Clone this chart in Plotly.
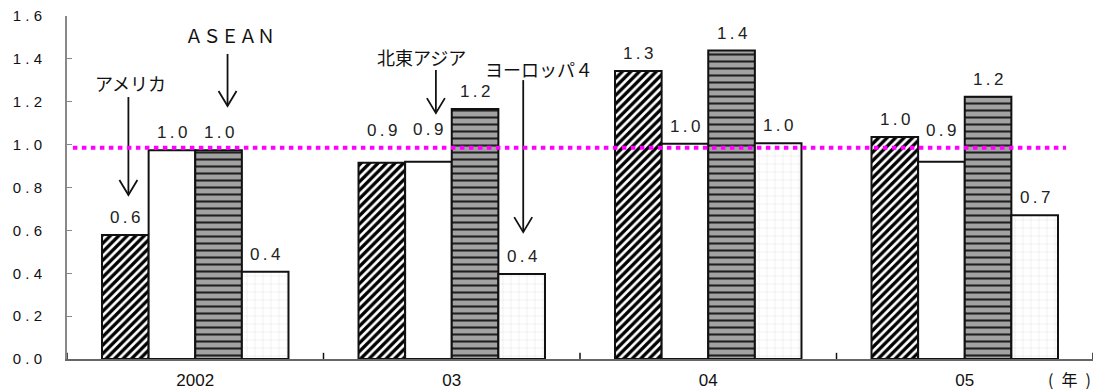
import plotly.graph_objects as go

# ---- data ----
years = ["2002", "03", "04", "05"]
series_names = ["アメリカ", "北東アジア", "ＡＳＥＡＮ", "ヨーロッパ４"]
america = [0.578, 0.915, 1.343, 1.036]
ne_asia = [0.974, 0.920, 1.004, 0.920]
asean = [0.974, 1.166, 1.439, 1.223]
europe4 = [0.407, 0.396, 1.006, 0.671]
reference_level = 0.985
y_ticks = [0.0, 0.2, 0.4, 0.6, 0.8, 1.0, 1.2, 1.4, 1.6]

values = [america, ne_asia, asean, europe4]

FONT = "Liberation Sans, Arial, sans-serif"
JFONT = "Noto Sans CJK JP, sans-serif"

patterns = [
    dict(shape="/", fgcolor="#000000", bgcolor="white", size=6, solidity=0.55, fgopacity=1),
    dict(shape="", fgcolor="white", bgcolor="white"),
    dict(shape="-", fgcolor="#202020", bgcolor="#a2a2a2", size=7, solidity=0.3, fgopacity=1),
    dict(shape="+", fgcolor="#a8a8a8", bgcolor="white", size=8, solidity=0.08),
]

BARGAP = 0.273
bar_w = (1 - BARGAP) / len(values)


def bar_x(cat, s):
    return cat + (s - (len(values) - 1) / 2) * bar_w


def spaced(v, sep):
    return sep.join(f"{v:.1f}")


fig = go.Figure()
for s, (name, vals) in enumerate(zip(series_names, values)):
    fig.add_trace(go.Bar(
        x=list(range(len(years))), y=vals, name=name,
        marker=dict(color="white", pattern=patterns[s],
                    line=dict(color="#111111", width=2)),
        showlegend=False,
    ))

annotations = []
shapes = []

# value labels above each bar (a few lifted to clear the arrows)
lift = {(1, 0): 15, (1, 1): 15, (3, 1): 14}
for s, vals in enumerate(values):
    for c, v in enumerate(vals):
        annotations.append(dict(
            x=bar_x(c, s), y=v, xref="x", yref="y",
            text=spaced(v, "\u2009"), showarrow=False,
            yanchor="bottom", yshift=6 + lift.get((c, s), 0),
            font=dict(family=FONT, size=17, color="#222222"),
        ))

# callout arrows naming each series: (series, year, dx, head, tail, text_dx, text_y)
callouts = [
    (0, 0, 0.012, 0.765, 1.222, 0.020, 1.287),
    (2, 0, 0.035, 1.180, 1.423, 0.043, 1.511),
    (1, 1, 0.029, 1.147, 1.348, -0.029, 1.408),
    (3, 1, 0.006, 0.592, 1.301, 0.068, 1.352),
]
for s, c, dx, head, tail, tdx, ty in callouts:
    xh = bar_x(c, s) + dx
    # shaft
    shapes.append(dict(
        type="line", xref="x", yref="y", x0=xh, x1=xh, y0=head, y1=tail,
        line=dict(color="#111111", width=1.8),
    ))
    # open V head, sized in pixels around the tip
    shapes.append(dict(
        type="path", xref="x", yref="y",
        xsizemode="pixel", ysizemode="pixel", xanchor=xh, yanchor=head,
        path="M-9,15 L0,0 L9,15",
        line=dict(color="#111111", width=1.8),
    ))
    annotations.append(dict(
        x=bar_x(c, s) + tdx, y=ty, xref="x", yref="y",
        text=series_names[s], showarrow=False,
        font=dict(family=JFONT, size=18, color="#111111"),
    ))

annotations.append(dict(
    x=1, y=0, xref="paper", yref="paper", xanchor="right", yanchor="top",
    yshift=-6, text="(\u2002年\u2002)", showarrow=False,
    font=dict(family=JFONT, size=16, color="#111111"),
))

# dotted reference level
shapes.append(dict(
    type="line", xref="x", yref="y", layer="above",
    x0=-0.477, x1=3.395, y0=reference_level, y1=reference_level,
    line=dict(color="#ff00ff", width=4, dash="4.5px,4.5px"),
))

# tick marks on the category boundaries of the x axis
for b in [-0.5, 0.5, 1.5, 2.5, 3.5]:
    shapes.append(dict(type="line", xref="x", yref="paper", x0=b, x1=b,
                       y0=0, y1=0.018, line=dict(color="#111111", width=1.5)))

fig.update_layout(
    width=1099, height=392,
    margin=dict(l=67, r=6, t=16, b=33),
    paper_bgcolor="white", plot_bgcolor="white",
    barmode="group", bargap=BARGAP, bargroupgap=0,
    annotations=annotations,
    shapes=shapes,
    xaxis=dict(
        range=[-0.5, 3.5], tickmode="array",
        tickvals=list(range(len(years))), ticktext=years,
        showgrid=False, zeroline=False, automargin=False,
        showline=True, linecolor="#666666", linewidth=1.5,
        ticks="", ticklabelstandoff=5,
        tickfont=dict(family=FONT, size=17, color="#111111"),
    ),
    yaxis=dict(
        range=[0, 1.6], tickmode="array", tickvals=y_ticks,
        ticktext=[spaced(t, " ") for t in y_ticks],
        showgrid=False, zeroline=False, automargin=False,
        showline=True, linecolor="#888888", linewidth=2,
        ticks="inside", ticklen=5, tickcolor="#888888", tickwidth=1,
        ticklabelstandoff=20,
        tickfont=dict(family=FONT, size=15, color="#111111"),
    ),
)

fig.write_html("out.html")
